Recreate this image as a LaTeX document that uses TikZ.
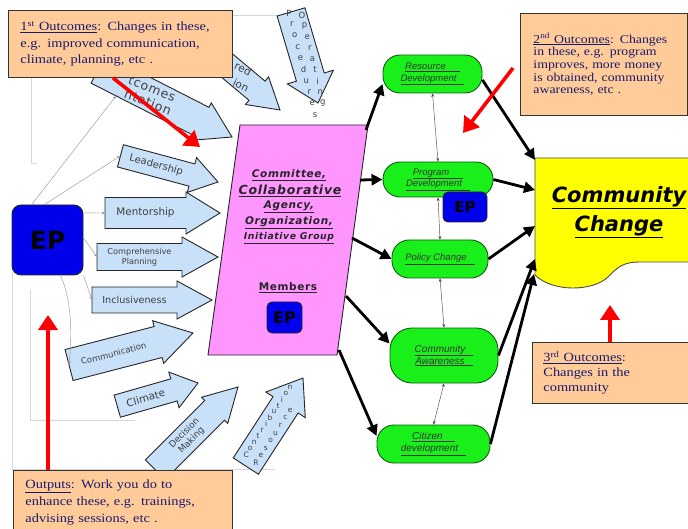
\documentclass[tikz,border=0pt]{standalone}
\usepackage{fontspec}
\setmainfont{Liberation Serif}
\setsansfont{DejaVu Sans}
\newfontfamily\calfont{Liberation Serif}[FakeStretch=1.15]
\newfontfamily\wideblack{DejaVu Sans}[LetterSpace=6]
\newfontfamily\arialfont{Liberation Sans}
\usetikzlibrary{arrows.meta}
\definecolor{arrowblue}{RGB}{200,224,248}
\definecolor{pinkfill}{RGB}{255,150,255}
\definecolor{greenfill}{RGB}{25,240,25}
\definecolor{greendraw}{RGB}{20,90,20}
\definecolor{epblue}{RGB}{0,0,235}
\definecolor{calloutfill}{RGB}{255,204,153}
\definecolor{navytext}{RGB}{25,25,110}
\definecolor{ccyellow}{RGB}{255,255,0}
\definecolor{faintgray}{RGB}{215,215,215}
% block arrow: #1 name, #2 tip, #3 angle, #4 length, #5 half shaft, #6 half head, #7 head length
\newcommand{\blockarr}[7]{%
  \begin{scope}[shift={#2},rotate=#3]
    \draw[barrowpath] (0,0) -- (-#7,#6) -- (-#7,#5) -- (-#4,#5) -- (-#4,-#5) -- (-#7,-#5) -- (-#7,-#6) -- cycle;
    \coordinate (#1-tail) at (-#4,0);
    \coordinate (#1-c) at ({-(#4+#7)/2},0);
  \end{scope}}
\begin{document}
\begin{tikzpicture}[x=1pt,y=-1pt,
  faint/.style={draw=faintgray,line width=0.7pt},
  conn/.style={draw=gray!80,line width=0.45pt,-{Stealth[length=3.5pt,width=3pt]}},
  gconn/.style={draw=gray!60!black,line width=0.45pt,{Stealth[length=3.5pt,width=3pt]}-{Stealth[length=3.5pt,width=3pt]}},
  barrowpath/.style={draw=black!85,line width=0.9pt,fill=arrowblue},
  blabel/.style={text=black!75,inner sep=0pt,align=center},
  stackl/.style={text=black!75,inner sep=0pt,font=\sffamily\fontsize{8.5}{9}\selectfont},
  epbox/.style={draw=black!85,line width=0.9pt,fill=epblue,rounded corners=5pt,text=black,font=\sffamily\bfseries\fontsize{16}{18}\selectfont},
  pinktext/.style={text=black!85,inner sep=0pt,font=\wideblack\bfseries\itshape\fontsize{10.5}{12}\selectfont},
  greenbox/.style={draw=greendraw,line width=0.9pt,fill=greenfill,rounded corners=17pt,align=center,text=black!80,inner sep=1pt,font=\arialfont\itshape\fontsize{9.5}{11.5}\selectfont},
  bigarrow/.style={draw=black,line width=2.8pt,-{Triangle[length=11pt,width=11pt]}},
  redarrow/.style={draw=red,line width=3.6pt,-{Triangle[length=15pt,width=19pt]}},
  callout/.style={draw=black!80,line width=0.9pt,fill=calloutfill,text=navytext,align=left,anchor=north west,inner ysep=2pt},
]
\useasboundingbox (0,0) rectangle (688,529);
\clip (0,0) rectangle (688,529);
\fill[white] (0,0) rectangle (688,529);

% faint background frame lines
\draw[faint] (31,77) -- (31,163) -- (37,163);
\draw[faint] (30,290) -- (30,420) -- (135,420);
\draw[faint] (12,272) -- (12,469) -- (275,469);
\draw[faint] (232,15) -- (280,15);

% big EP
\node[epbox,minimum width=71,minimum height=70,rounded corners=9pt,font=\sffamily\bfseries\fontsize{25}{28}\selectfont] (ep) at (47.5,240) {EP};

% blue block arrows
\blockarr{outc}{(232,137)}{-27}{150}{16}{21}{34}
\blockarr{shv}{(280,110)}{-40}{110}{12.5}{18}{30}
\blockarr{opp}{(318,103)}{-73.5}{95}{14.5}{24}{27}
\blockarr{lead}{(218,182)}{-15}{101}{11.5}{18}{27}
\blockarr{ment}{(220,213)}{0}{115}{15.5}{21}{34}
\blockarr{comp}{(218,257)}{0}{121}{13.5}{20}{36}
\blockarr{incl}{(212,300)}{0}{120}{13}{19}{35}
\blockarr{comm}{(193,333)}{14.5}{128}{16}{22}{36}
\blockarr{clim}{(198,383)}{16}{84}{11.5}{18.5}{25}
\blockarr{dec}{(238,387)}{45}{117}{14}{18.5}{33}
\blockarr{rc}{(303,378)}{57}{105}{15}{23.5}{32}

% arrow labels
\node[blabel,rotate=-15,font=\sffamily\fontsize{10}{12}\selectfont] (leadt) at (lead-c) {Leadership};
\node[blabel,font=\sffamily\fontsize{10.4}{12}\selectfont] (mentt) at (ment-c) {Mentorship};
\node[blabel,font=\sffamily\fontsize{8.2}{9.5}\selectfont] (compt) at (comp-c) {Comprehensive\\Planning};
\node[blabel,font=\sffamily\fontsize{9.6}{11}\selectfont] (inclt) at (incl-c) {Inclusiveness};
\node[blabel,rotate=14.5,font=\sffamily\fontsize{8.5}{10}\selectfont] (commt) at (comm-c) {Communication};
\node[blabel,rotate=16,font=\sffamily\fontsize{10.3}{12}\selectfont] (climt) at (clim-c) {Climate};
\node[blabel,rotate=45,font=\sffamily\fontsize{9}{10}\selectfont] (dect) at ([shift={(3,-3)}]dec-c) {Decision\\Making};

% visible parts of the labels of the half-hidden arrows
\node[blabel,rotate=-22,font=\wideblack\fontsize{12.5}{14}\selectfont] (outcl1) at (152,89) {tcomes};
\node[blabel,rotate=-21,font=\wideblack\fontsize{12.5}{14}\selectfont] (outcl2) at (148,102) {ntation};
\node[blabel,rotate=-25,font=\sffamily\fontsize{10.5}{12}\selectfont] (shvl1) at (243,69) {red};
\node[blabel,rotate=-25,font=\sffamily\fontsize{10.5}{12}\selectfont] (shvl2) at (241,85) {ion};

% stacked letters
\foreach \ch [count=\i] in {P,r,o,c,e,d,u,r,e,s}
  \node[stackl] (opa\i) at ({289+(\i-1)*2.9},{13+(\i-1)*11.3}) {\ch};
\foreach \ch [count=\i] in {O,p,e,r,a,t,i,n,g}
  \node[stackl] (opb\i) at ({302+(\i-1)*2.6},{15+(\i-1)*11}) {\ch};
\foreach \ch [count=\i] in {C,o,n,t,r,i,b,u,t,i,o,n}
  \node[stackl,font=\sffamily\fontsize{7.5}{8}\selectfont] (rca\i) at ({246.2+(\i-1)*3.98},{454.4-(\i-1)*6.12}) {\ch};
\foreach \ch [count=\i] in {R,e,s,o,u,r,c,e}
  \node[stackl,font=\sffamily\fontsize{7.5}{8}\selectfont] (rcb\i) at ({256+(\i-1)*4.9},{463.2-(\i-1)*7.55}) {\ch};

% thin connectors from EP
\coordinate (octgt) at (116,96);
\draw[conn] (ep.114) -- (octgt);
\draw[conn] (ep.95) -- (lead-tail);
\draw[conn] (ep.37) -- (ment-tail);
\draw[conn] (ep.3) -- (comp-tail);
\draw[conn] (ep.south east) -- (incl-tail);
\draw[conn] (ep.-70) .. controls (72,300) and (72,335) .. (comm-tail);

% pink committee box
\draw[draw=black!85,line width=0.9pt,fill=pinkfill] (240,125) coordinate (pk1) -- (368,125) coordinate (pk2) -- (337,355) coordinate (pk3) -- (208,355) coordinate (pk4) -- cycle;
\node[pinktext] (pt1) at (289,175) {\underline{Committee,}};
\node[pinktext,font=\wideblack\bfseries\itshape\fontsize{12.5}{14}\selectfont] (pt2) at (290,191) {\underline{Collaborative}};
\node[pinktext] (pt3) at (289,207) {\underline{Agency,}};
\node[pinktext] (pt4) at (289,223) {\underline{Organization,}};
\node[pinktext,font=\wideblack\bfseries\itshape\fontsize{9.3}{11}\selectfont] (pt5) at (289,238) {\underline{Initiative Group}};
\node[pinktext,font=\wideblack\bfseries\fontsize{10.5}{12}\selectfont] (mem) at (288,288) {\underline{Members}};
\node[epbox,minimum width=35,minimum height=31] (ep2) at (284.5,317.5) {EP};

% green nodes
\node[greenbox,minimum width=99,minimum height=38] (res) at (432.5,74) {\underline{Resource\hspace{14pt}}\\\underline{Development\hspace{8pt}}};
\node[greenbox,minimum width=110,minimum height=35] (prog) at (438,179.5) {\underline{Program\hspace{14pt}}\\\underline{Development\hspace{8pt}}};
\node[greenbox,minimum width=96,minimum height=38] (pol) at (440,259) {\underline{Policy Change\hspace{8pt}}};
\node[greenbox,minimum width=108,minimum height=55,rounded corners=22pt,font=\arialfont\itshape\fontsize{10}{12}\selectfont] (cawr) at (444,355.5) {\underline{Community\hspace{8pt}}\\\underline{Awareness\hspace{8pt}}};
\node[greenbox,minimum width=113,minimum height=38,font=\arialfont\itshape\fontsize{10}{12}\selectfont] (cit) at (433.5,444) {\underline{Citizen\hspace{12pt}}\\\underline{development\hspace{8pt}}};
\draw[gconn] (res.south) -- (prog.north);
\draw[gconn] (prog.south) -- (pol.north);
\draw[gconn] (pol.south) -- (cawr.north);
\draw[gconn] (cawr.south) -- (cit.north);
\node[epbox,minimum width=44,minimum height=30,font=\sffamily\bfseries\fontsize{15}{17}\selectfont] (ep3) at (465,207) {EP};

% thick arrows from committee box
\coordinate (s1) at (366,130);
\coordinate (s2) at (360,180);
\coordinate (s3) at (352,238);
\coordinate (s4) at (346,296);
\coordinate (s5) at (339,350);
\draw[bigarrow] (s1) -- ([yshift=-10pt]res.west);
\draw[bigarrow] (s2) -- (prog.west);
\draw[bigarrow] (s3) -- (pol.west);
\draw[bigarrow] (s4) -- ([yshift=12pt]cawr.west);
\draw[bigarrow] (s5) -- ([yshift=8pt]cit.west);

% community change
\draw[draw=black!70,line width=0.9pt,fill=ccyellow] (535,158) -- (700,158) -- (700,262) -- (640,262) .. controls (622,262) and (617,268) .. (608,277) .. controls (592,292) and (552,292) .. (535,275) -- cycle;
\node[font=\sffamily\bfseries\itshape\fontsize{21}{29}\selectfont,text=black,align=center,inner sep=0pt] (cc) at (619,212) {\underline{Community}\\\underline{Change}};
\coordinate (c1) at (535,160);
\coordinate (c2) at (535,190);
\coordinate (c3) at (535,226);
\coordinate (c4) at (535,259);
\coordinate (c5) at (534,274);
\draw[bigarrow] ([yshift=-6pt]res.east) -- (c1);
\draw[bigarrow] (prog.east) -- (c2);
\draw[bigarrow] (pol.east) -- (c3);
\draw[bigarrow] (cawr.east) -- (c4);
\draw[bigarrow] (cit.east) -- (c5);

% callouts
\node[callout,minimum width=224,minimum height=67,text width=200pt,inner xsep=12pt,font=\calfont\fontsize{12.5}{16.5}\selectfont] (co1) at (8,10) {\underline{1\textsuperscript{st} Outcomes}: Changes in these,\\e.g. improved communication,\\climate, planning, etc .};
\node[callout,minimum height=102,text width=141pt,inner xsep=13pt,font=\calfont\fontsize{12}{12.7}\selectfont] (co2) at (520,13) {\underline{2\textsuperscript{nd} Outcomes}: Changes\\in these, e.g. program\\improves, more money\\is obtained, community\\awareness, etc .};
\node[callout,minimum height=61,text width=134pt,inner xsep=11pt,font=\calfont\fontsize{12.5}{15}\selectfont] (co3) at (532,342) {\underline{3\textsuperscript{rd} Outcomes}:\\Changes in the\\community};
\node[callout,minimum height=64,text width=195pt,inner xsep=12pt,font=\calfont\fontsize{12.5}{17}\selectfont] (outs) at (13,470) {\underline{Outputs}: Work you do to\\enhance these, e.g. trainings,\\advising sessions, etc .};

% red arrows
\coordinate (r1e) at (200,147);
\coordinate (r2s) at (513,68);
\coordinate (r2e) at (463,133);
\coordinate (r3e) at (48,315);
\coordinate (r4e) at (610,305);
\draw[redarrow] ([xshift=105pt]co1.south west) -- (r1e);
\draw[redarrow] (r2s) -- (r2e);
\draw[redarrow] ([xshift=35pt]outs.north west) -- (r3e);
\draw[redarrow] ([xshift=78pt]co3.north west) -- (r4e);
\end{tikzpicture}
\end{document}
